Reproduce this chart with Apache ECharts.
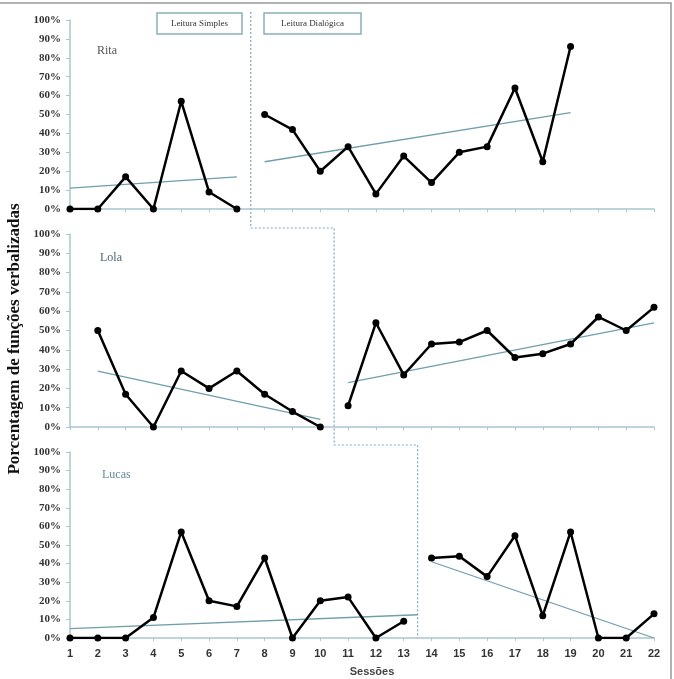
<!DOCTYPE html>
<html>
<head>
<meta charset="utf-8">
<script src="https://cdn.jsdelivr.net/npm/echarts@6/dist/echarts.min.js"></script>
<style>
  html, body { margin: 0; padding: 0; background: #fff; }
  #chart { width: 674px; height: 679px; }
</style>
</head>
<body>
<div id="chart"></div>
<script>
// sessões 1..22
const sessions = [1, 2, 3, 4, 5, 6, 7, 8, 9, 10, 11, 12, 13, 14, 15, 16, 17, 18, 19, 20, 21, 22]
const yTicks = [0, 10, 20, 30, 40, 50, 60, 70, 80, 90, 100]
const participants = ['Rita', 'Lola', 'Lucas']
const phaseNames = ['Leitura Simples', 'Leitura Dialógica']
// mudança de fase (entre sessões)
const phaseChanges = [7.5, 10.5, 13.5]

// Rita
const ritaBaseStart = 1
const ritaBaseline = [0, 0, 17, 0, 57, 9, 0]
const ritaIntStart = 8
const ritaIntervention = [50, 42, 20, 33, 8, 28, 14, 30, 33, 64, 25, 86]
const ritaBaseTrend = [[1, 11], [7, 17]]
const ritaIntTrend = [[8, 25], [19, 51]]

// Lola
const lolaBaseStart = 2
const lolaBaseline = [50, 17, 0, 29, 20, 29, 17, 8, 0]
const lolaIntStart = 11
const lolaIntervention = [11, 54, 27, 43, 44, 50, 36, 38, 43, 57, 50, 62]
const lolaBaseTrend = [[2, 29], [10, 4]]
const lolaIntTrend = [[11, 23], [22, 54]]

// Lucas
const lucasBaseStart = 1
const lucasBaseline = [0, 0, 0, 11, 57, 20, 17, 43, 0, 20, 22, 0, 9]
const lucasIntStart = 14
const lucasIntervention = [43, 44, 33, 55, 12, 57, 0, 0, 13]
const lucasBaseTrend = [[1, 5], [13.5, 12.5]]
const lucasIntTrend = [[14, 41], [22, 0]]

function pts (start, values) {
  return values.map((v, i) => [start + i, v])
}

const grids = [
  { left: 70, right: 20, top: 20, height: 189 },
  { left: 70, right: 20, top: 234, height: 193 },
  { left: 70, right: 20, top: 452, height: 186 }
]

const axisColor = '#a8c8ce'
const trendColor = '#6f9fab'

function xAxis (i) {
  return {
    type: 'value',
    gridIndex: i,
    min: sessions[0],
    max: sessions[sessions.length - 1],
    interval: 1,
    axisLine: { show: true, lineStyle: { color: axisColor, width: 1.5 } },
    axisTick: { show: true, length: 3, inside: false, lineStyle: { color: axisColor } },
    splitLine: { show: false },
    axisLabel: {
      show: i === 2,
      color: '#333',
      fontFamily: 'Liberation Sans',
      fontWeight: 'bold',
      fontSize: 11,
      margin: 10
    }
  }
}

function yAxis (i) {
  return {
    type: 'value',
    gridIndex: i,
    min: yTicks[0],
    max: yTicks[yTicks.length - 1],
    interval: 10,
    axisLine: { show: true, lineStyle: { color: axisColor, width: 1.5 } },
    axisTick: { show: true, length: 4, lineStyle: { color: axisColor } },
    splitLine: { show: false },
    axisLabel: {
      formatter: '{value}%',
      color: '#333',
      fontFamily: 'Liberation Serif',
      fontWeight: 'bold',
      fontSize: 11,
      margin: 9
    }
  }
}

function dataLine (i, data) {
  return {
    type: 'line',
    xAxisIndex: i,
    yAxisIndex: i,
    data: data,
    symbol: 'circle',
    symbolSize: 7,
    itemStyle: { color: '#000' },
    lineStyle: { color: '#000', width: 2.5 },
    animation: false,
    z: 3
  }
}

function trendLine (i, data) {
  return {
    type: 'line',
    xAxisIndex: i,
    yAxisIndex: i,
    data: data,
    symbol: 'none',
    lineStyle: { color: trendColor, width: 1.3 },
    animation: false,
    z: 2
  }
}

const chart = echarts.init(document.getElementById('chart'))

chart.setOption({
  backgroundColor: '#fff',
  animation: false,
  grid: grids,
  xAxis: [xAxis(0), xAxis(1), xAxis(2)],
  yAxis: [yAxis(0), yAxis(1), yAxis(2)],
  series: [
    dataLine(0, pts(ritaBaseStart, ritaBaseline)),
    dataLine(0, pts(ritaIntStart, ritaIntervention)),
    trendLine(0, ritaBaseTrend),
    trendLine(0, ritaIntTrend),
    dataLine(1, pts(lolaBaseStart, lolaBaseline)),
    dataLine(1, pts(lolaIntStart, lolaIntervention)),
    trendLine(1, lolaBaseTrend),
    trendLine(1, lolaIntTrend),
    dataLine(2, pts(lucasBaseStart, lucasBaseline)),
    dataLine(2, pts(lucasIntStart, lucasIntervention)),
    trendLine(2, lucasBaseTrend),
    trendLine(2, lucasIntTrend)
  ]
})

// linha tracejada de mudança de fase
const px = (g, x, y) => chart.convertToPixel({ gridIndex: g }, [x, y])
const x1 = px(0, phaseChanges[0], 0)[0]
const x2 = px(1, phaseChanges[1], 0)[0]
const x3 = px(2, phaseChanges[2], 0)[0]
const step1 = px(0, 0, 0)[1] + 19
const step2 = px(1, 0, 0)[1] + 18
const bottom = px(2, 0, 0)[1]

const dash = { stroke: '#7aaac4', lineWidth: 1.2, lineDash: [2, 2], fill: null }

chart.setOption({
  graphic: [
    {
      type: 'rect',
      shape: { x: -2, y: 3, width: 673, height: 680 },
      style: { stroke: '#999', lineWidth: 1.5, fill: null },
      silent: true
    },
    {
      type: 'polyline',
      shape: { points: [[x1, 12], [x1, step1], [x2, step1], [x2, step2], [x3, step2], [x3, bottom]] },
      style: dash,
      silent: true
    },
    {
      type: 'rect',
      shape: { x: 157, y: 13, width: 85, height: 21 },
      style: { stroke: '#8ab0b8', lineWidth: 1.5, fill: '#fff' }
    },
    {
      type: 'text',
      x: 199.5, y: 24,
      style: { text: phaseNames[0], fill: '#333', font: '9px "Liberation Serif"', align: 'center', verticalAlign: 'middle' }
    },
    {
      type: 'rect',
      shape: { x: 264, y: 13, width: 97, height: 21 },
      style: { stroke: '#8ab0b8', lineWidth: 1.5, fill: '#fff' }
    },
    {
      type: 'text',
      x: 312.5, y: 24,
      style: { text: phaseNames[1], fill: '#333', font: '9px "Liberation Serif"', align: 'center', verticalAlign: 'middle' }
    },
    {
      type: 'text', x: 97, y: 51,
      style: { text: participants[0], fill: '#555', font: '12px "Liberation Serif"', verticalAlign: 'middle' }
    },
    {
      type: 'text', x: 100, y: 258,
      style: { text: participants[1], fill: '#4f6570', font: '12px "Liberation Serif"', verticalAlign: 'middle' }
    },
    {
      type: 'text', x: 102, y: 475,
      style: { text: participants[2], fill: '#5f8d9b', font: '12px "Liberation Serif"', verticalAlign: 'middle' }
    },
    {
      type: 'text', x: 15, y: 339, rotation: Math.PI / 2,
      style: { text: 'Porcentagem de funções verbalizadas', fill: '#111', font: 'bold 17px "Liberation Serif"', align: 'center', verticalAlign: 'middle' }
    },
    {
      type: 'text', x: 372, y: 672,
      style: { text: 'Sessões', fill: '#444', font: 'bold 11px "Liberation Sans"', align: 'center', verticalAlign: 'middle' }
    }
  ]
})
</script>
</body>
</html>
